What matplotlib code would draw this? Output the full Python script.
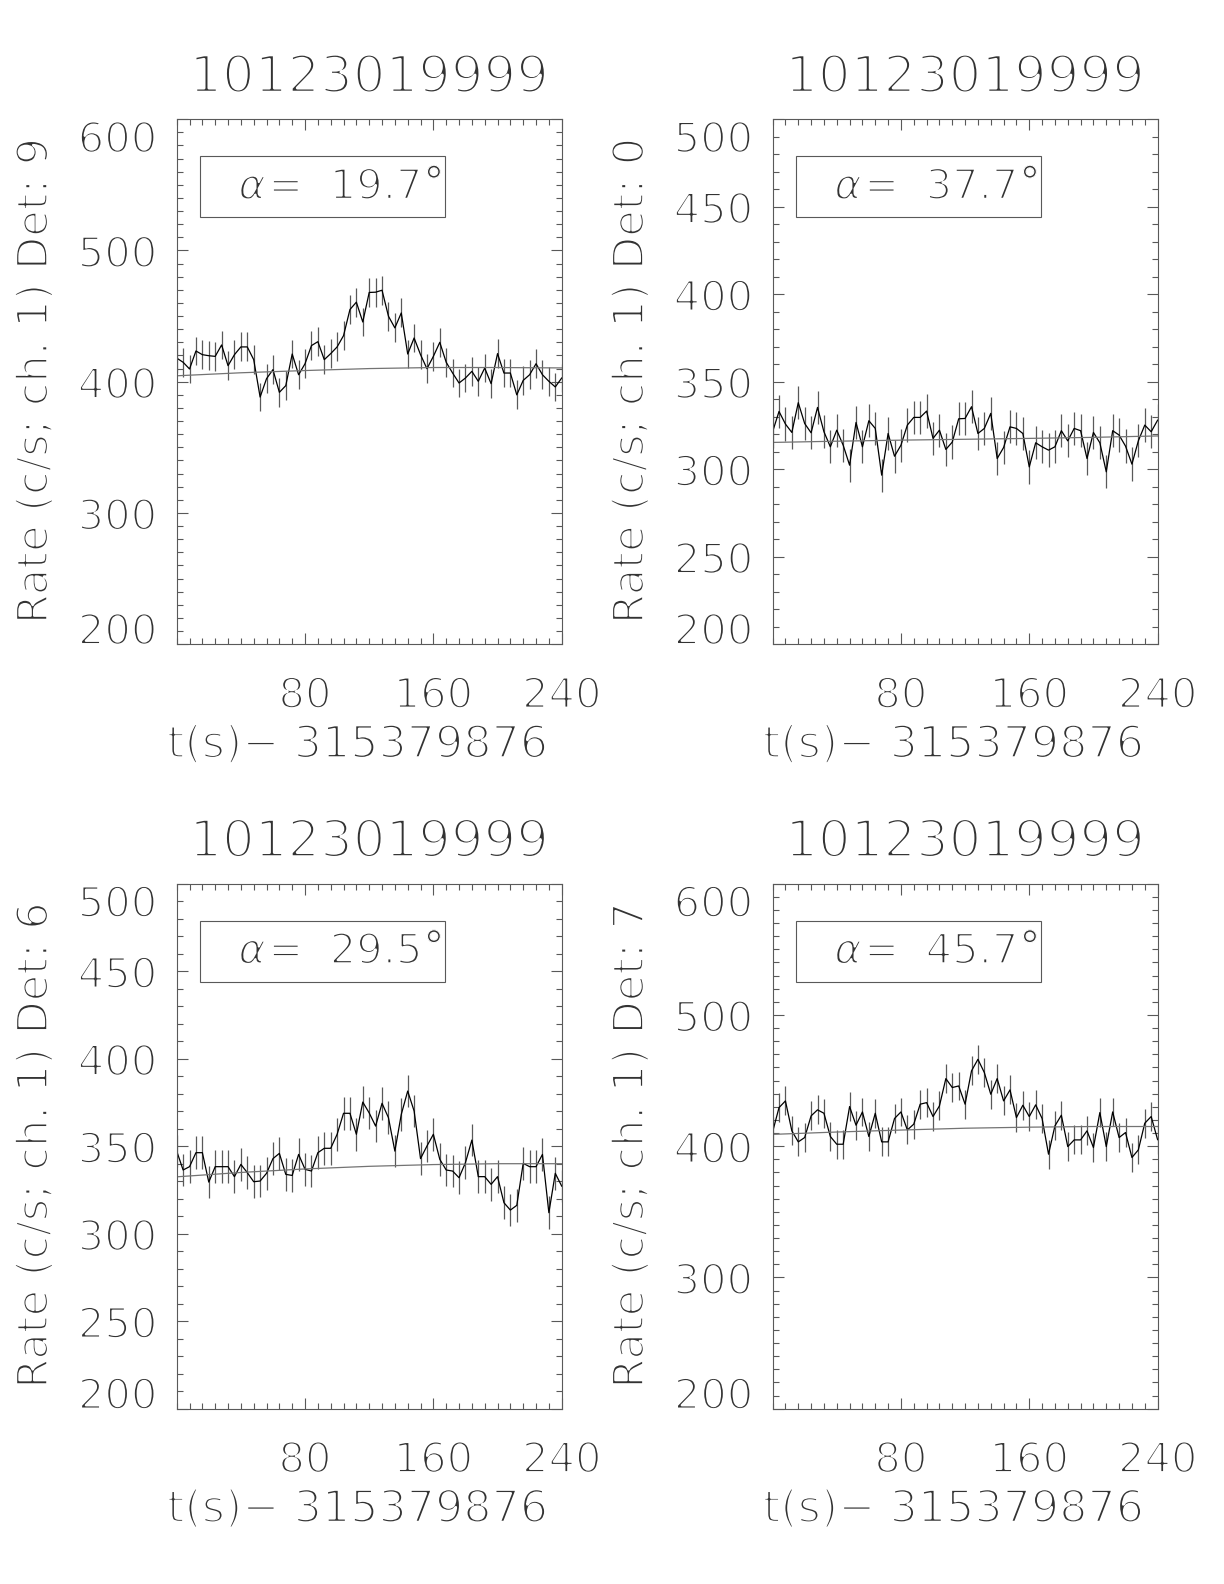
import numpy as np
import matplotlib.pyplot as plt
import matplotlib.patheffects as pe
from matplotlib.patches import Rectangle
from matplotlib.ticker import MultipleLocator

plt.rcParams['font.family'] = ['DejaVu Sans']

# Zeitachse (4-s-Bins)
t = np.arange(0, 244, 4)
t_fit = [0, 40, 80, 120, 160, 200, 240]

# Zaehlraten je Detektor
rate_det9 = [418, 414.8, 409.7, 423.4, 420.6, 419.8, 419.3, 428, 412.2, 420.6,
             426.5, 426.5, 416.8, 388.3, 402.3, 409.2, 391.9, 397, 421.1, 405.3,
             413.7, 427.5, 430.5, 416.8, 421.4, 426.5, 435.1, 455, 460.6, 445.5,
             468, 468.2, 469.7, 449.9, 441, 452.4, 421.1, 433.3, 420.6, 409.9,
             419.3, 430, 414.8, 406.6, 399, 402.8, 407.9, 400.3, 410.4, 398.5,
             421.4, 406.6, 406.6, 390, 401, 405.3, 413.7, 405.3, 400.3, 396, 402.8]
rate_det0 = [321.4, 333, 325.8, 321, 338, 326.1, 320.8, 335.3, 321.4, 312.8,
             322.3, 313.7, 302.3, 326.7, 312.8, 327.7, 323.3, 296.6, 320.4, 307.4,
             313.7, 325.2, 329.6, 329.6, 333.2, 317.6, 322.3, 311.3, 315.5, 328.8,
             329, 335.7, 320.4, 323.3, 331.9, 306.1, 312.4, 324.2, 323.3, 320.4,
             301.3, 315.1, 312.8, 310.9, 312.8, 322, 316.2, 323.3, 322, 306.1,
             321, 315.1, 298.5, 322, 319.5, 313.2, 302.9, 316.2, 325.2, 321.4, 328]
rate_det6 = [347.2, 336.4, 338.3, 346.3, 346.3, 329.5, 338.3, 338.3, 338.3, 332.6,
             339.6, 334.9, 329.7, 330.1, 334.5, 342.9, 345.9, 333.9, 333.3, 345.3,
             336.8, 335.8, 346.3, 348.8, 348.8, 356.8, 368.8, 368.8, 356.8, 375.2,
             369, 361.5, 374.5, 366.3, 347.2, 368.2, 381.5, 370.1, 342.9, 350.1,
             356.8, 342.5, 336.4, 335.8, 332, 340.6, 353.5, 332.6, 332.6, 328.2,
             332.6, 317.7, 313.5, 316.2, 340.2, 338.3, 338.3, 345.3, 312, 334.5, 327.2]
rate_det7 = [410.9, 429.4, 434.5, 411.7, 403.3, 406.6, 423.1, 427.7, 425.1, 407.4,
             401.5, 401.5, 430.2, 416, 426.1, 407.4, 425.1, 403.3, 403.3, 421.1,
             426.1, 412.4, 416.8, 432, 433.2, 422.6, 430.7, 451.5, 444.7, 445.9,
             432, 457.4, 466.2, 456.1, 439.6, 451.5, 434.5, 442.9, 421.8, 431.2,
             422.6, 431.5, 421.1, 393.9, 415.5, 423.6, 399.7, 404.8, 404.8, 411.7,
             399, 425.6, 399.7, 426.1, 406.6, 410.4, 391.4, 397.2, 417.5, 422.6, 405]

# Untergrund-Fit
fit_det9 = [404.5, 406.8, 408.5, 410, 410.8, 410.8, 410.5]
fit_det0 = [315.3, 316, 316.6, 317.1, 317.6, 318.2, 319]
fit_det6 = [332.5, 335, 337, 338.5, 339.5, 340, 340]
fit_det7 = [409, 410.8, 412.3, 413.7, 414.5, 415, 415]

errs = [11, 9.5, 9.3, 11]
dets = [9, 0, 6, 7]
alphas = ['19.7', '37.7', '29.5', '45.7']
ylims = [(200, 600), (200, 500), (200, 500), (200, 600)]
ysteps = [100, 50, 50, 100]
obs_id = '10123019999'
t0 = '315379876'

rates = [rate_det9, rate_det0, rate_det6, rate_det7]
fits = [fit_det9, fit_det0, fit_det6, fit_det7]

fig = plt.figure(figsize=(12.24, 15.84), dpi=100)
W, H = 1224, 1584
boxes = [(176.7, 119.2), (772.6, 119.2), (176.7, 883.7), (772.6, 883.7)]
aw, ah = 385, 525


# Schrift "ausduennen": weisse Kontur ueber die Glyphen legen
def thin(lw):
    return [pe.Normal(), pe.Stroke(linewidth=lw, foreground='white')]


tc = '0.2'
for i in range(4):
    x0, y0 = boxes[i]
    ax = fig.add_axes([x0 / W, 1 - (y0 + ah) / H, aw / W, ah / H])
    ax.errorbar(t, rates[i], yerr=errs[i], fmt='none', ecolor='0.35',
                elinewidth=0.9, capsize=0)
    ax.plot(t, rates[i], color='black', lw=0.9)
    ax.plot(t_fit, fits[i], color='0.45', lw=0.9)
    ax.set_xlim(0, 240)
    ax.set_ylim(*ylims[i])
    ax.set_xticks([80, 160, 240])
    ax.set_yticks(np.arange(ylims[i][0], ylims[i][1] + 1, ysteps[i]))
    ax.xaxis.set_minor_locator(MultipleLocator(8))
    ax.yaxis.set_minor_locator(MultipleLocator(10))
    ax.tick_params(which='both', direction='in', top=True, right=True,
                   color='0.35', width=0.8, labelcolor=tc, labelsize=30)
    ax.tick_params(which='major', length=8)
    ax.tick_params(which='minor', length=4)
    ax.tick_params(axis='x', pad=22)
    ax.tick_params(axis='y', pad=14)
    for s in ax.spines.values():
        s.set_color('0.35')
        s.set_linewidth(0.8)
    ylabs = ax.get_yticklabels()
    ylabs[0].set_va('baseline')
    ylabs[-1].set_va('top')
    for lab in ax.get_xticklabels() + ylabs:
        lab.set_path_effects(thin(1.7))

    ax.text(0.5, 1.078, obs_id, transform=ax.transAxes, ha='center',
            va='center', fontsize=37, color=tc, path_effects=thin(2.2))
    ax.text(0.47, -0.192, 't(s)\u2212 ' + t0, transform=ax.transAxes,
            ha='center', va='center', fontsize=32, color=tc,
            path_effects=thin(1.8))
    ax.text(-0.367, 0.5, 'Rate (c/s; ch. 1) Det: %d' % dets[i],
            transform=ax.transAxes, rotation=90, ha='center', va='center',
            fontsize=31, color=tc, path_effects=thin(1.7))
    ax.add_patch(Rectangle((0.06, 0.813), 0.636, 0.116, transform=ax.transAxes,
                           fill=False, edgecolor='0.35', lw=0.8))
    ax.text(0.196, 0.871, '\u03b1', transform=ax.transAxes, ha='center',
            va='center', fontsize=30, color=tc, fontstyle='italic',
            path_effects=thin(1.5))
    val = ax.text(0.238, 0.871, '=  ' + alphas[i],
                  transform=ax.transAxes, ha='left', va='center', fontsize=30,
                  color=tc, path_effects=thin(1.7))
    ax.annotate('\u00b0', xy=(1.0, 1.0), xycoords=val, xytext=(1, 2),
                textcoords='offset points', ha='left', va='top', fontsize=30,
                color=tc, path_effects=thin(0.8))

fig.savefig('out.png', dpi=100)
